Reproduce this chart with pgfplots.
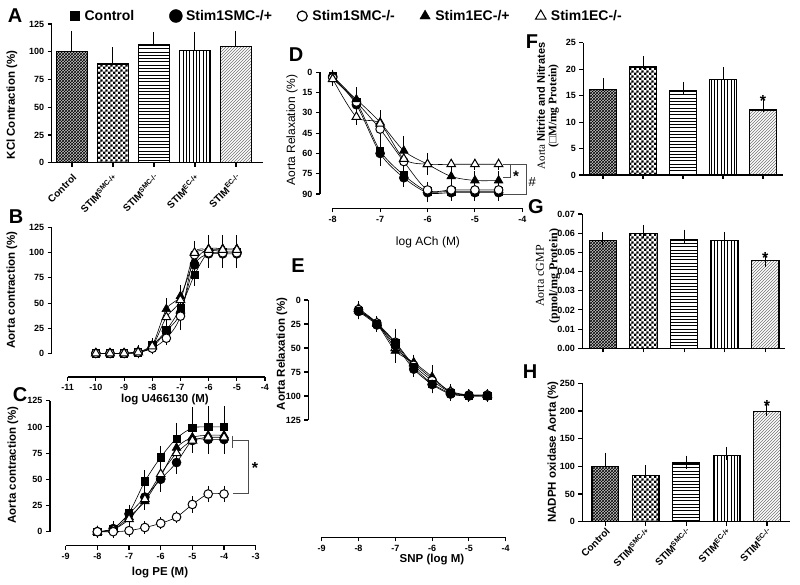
\documentclass[border=0pt]{standalone}
\usepackage{pgfplots}
\pgfplotsset{compat=1.18}
\usepackage{fontspec}
\setmainfont{Liberation Sans}
\newfontfamily\tnr{Liberation Serif}
\usetikzlibrary{patterns}

\pgfdeclarepatternformonly{mych}{\pgfqpoint{0pt}{0pt}}{\pgfqpoint{5.2pt}{5.2pt}}{\pgfqpoint{5.2pt}{5.2pt}}{%
 \pgfpathrectangle{\pgfqpoint{0pt}{0pt}}{\pgfqpoint{2.6pt}{2.6pt}}%
 \pgfpathrectangle{\pgfqpoint{2.6pt}{2.6pt}}{\pgfqpoint{2.6pt}{2.6pt}}%
 \pgfusepath{fill}}
\pgfdeclarepatternformonly{myh}{\pgfqpoint{-1pt}{-1pt}}{\pgfqpoint{4pt}{4pt}}{\pgfqpoint{3pt}{3.3pt}}{%
 \pgfsetlinewidth{0.9pt}\pgfpathmoveto{\pgfqpoint{-1pt}{1.65pt}}\pgfpathlineto{\pgfqpoint{4pt}{1.65pt}}\pgfusepath{stroke}}
\pgfdeclarepatternformonly{myv}{\pgfqpoint{-1pt}{-1pt}}{\pgfqpoint{4pt}{4pt}}{\pgfqpoint{3.3pt}{3pt}}{%
 \pgfsetlinewidth{0.9pt}\pgfpathmoveto{\pgfqpoint{1.65pt}{-1pt}}\pgfpathlineto{\pgfqpoint{1.65pt}{4pt}}\pgfusepath{stroke}}

\pgfplotsset{
  base/.style={scale only axis, clip=false, anchor=center,
    axis line style={line width=1.3pt},
    every tick/.append style={black, line width=1.1pt},
    major tick length=4pt,
    tick label style={font=\bfseries\fontsize{9}{10}\selectfont},
    /pgf/number format/assume math mode=true},
  yonly/.style={base, axis x line=none, axis y line*=left, tick align=outside},
  xonly/.style={base, anchor=south west, axis y line=none, axis x line*=bottom, height=1pt, ymin=0, ymax=1, ytick=\empty, tick align=outside},
  barax/.style={base, axis x line*=bottom, axis y line*=left, xtick={0,...,4}, ymin=0, tick align=outside},
  ser/.style={black, line width=0.6pt, smooth, tension=0.5,
    error bars/y dir=both, error bars/y explicit, error bars/error mark=-,
    error bars/error bar style={line width=0.9pt, solid},
    error bars/error mark options={line width=0.9pt, mark size=4pt, solid}},
  sSq/.style={ser, mark=square*, mark size=3.6pt, mark options={solid, fill=black}},
  sCi/.style={ser, mark=*, mark size=4.5pt, mark options={solid, fill=black}},
  sOc/.style={ser, mark=*, mark size=4.3pt, mark options={solid, fill=white, draw=black, line width=1pt}},
  sTr/.style={ser, mark=triangle*, mark size=5pt, mark options={solid, fill=black}},
  sOt/.style={ser, mark=triangle*, mark size=5pt, mark options={solid, fill=white, draw=black, line width=1pt}},
  barb/.style={ybar, bar shift=0pt, draw=black, line width=1.2pt,
    error bars/y dir=plus, error bars/y explicit, error bars/error mark=-,
    error bars/error bar style={line width=1pt},
    error bars/error mark options={line width=1pt, mark size=6.5pt}},
  bar1/.style={barb, preaction={fill=gray!45}, pattern=crosshatch},
  bar2/.style={barb, preaction={fill=white}, pattern=mych},
  bar3/.style={barb, preaction={fill=white}, pattern=myh},
  bar4/.style={barb, preaction={fill=white}, pattern=myv},
  bar5/.style={barb, preaction={fill=white}, pattern=north east lines, pattern color=black!55},
  catlabels/.style={xticklabels={Control, STIM\textsuperscript{SMC-/+}, STIM\textsuperscript{SMC-/-}, STIM\textsuperscript{EC-/+}, STIM\textsuperscript{EC-/-}}},
}

\begin{document}
\begin{tikzpicture}[x=1pt,y=-1pt]
\useasboundingbox (0,0) rectangle (800,585);

% ---------- legend ----------
\begin{axis}[at={(400pt,-292.5pt)}, anchor=center, scale only axis, width=800pt, height=585pt,
  xmin=0,xmax=800,ymin=0,ymax=585, hide axis, legend columns=5,
  legend style={at={(0.085,0.9726)}, anchor=west, draw=none, fill=none, inner sep=0pt,
   font=\bfseries\fontsize{14}{16}\selectfont},
  legend image code/.code={\path (-6pt,0pt) (8pt,0pt);\draw[#1] plot coordinates {(0pt,0pt)};}]
\addlegendimage{black, mark=square*, mark size=4.6pt}
\addlegendentry{Control\hspace*{33pt}}
\addlegendimage{black, mark=*, mark size=6.5pt}
\addlegendentry{Stim1SMC-/+\hspace*{22pt}}
\addlegendimage{black, mark=*, mark size=5pt, mark options={fill=white, line width=1.2pt}}
\addlegendentry{Stim1SMC-/-\hspace*{22pt}}
\addlegendimage{black, mark=triangle*, mark size=6pt}
\addlegendentry{Stim1EC-/+\hspace*{23pt}}
\addlegendimage{black, mark=triangle*, mark size=6pt, mark options={fill=white, line width=1pt}}
\addlegendentry{Stim1EC-/-}
\end{axis}

% ---------- A ----------
\begin{axis}[barax, at={(157.35pt,-93.35pt)}, width=211.3pt, height=138.7pt,
  xmin=-0.495, xmax=4.66, ymax=125, ytick={0,25,...,125}, catlabels,
  xticklabel style={yshift=-5pt, rotate=45, anchor=north east, inner sep=1pt, font=\bfseries\fontsize{10}{11}\selectfont}]
\addplot[bar1, bar width=0.75] coordinates {(0,100) +- (0,13)};
\addplot[bar2, bar width=0.75] coordinates {(1,89) +- (0,9)};
\addplot[bar3, bar width=0.75] coordinates {(2,106) +- (0,6)};
\addplot[bar4, bar width=0.75] coordinates {(3,101) +- (0,11)};
\addplot[bar5, bar width=0.75] coordinates {(4,105) +- (0,8)};
\end{axis}

% ---------- B ----------
\begin{axis}[yonly, at={(158.35pt,-290.5pt)}, width=213.3pt, height=125.6pt,
  xmin=-11.567, xmax=-4, ymin=0, ymax=125, ytick={0,25,...,125}]
\addplot[sSq] table[x=x,y=y,y error=e] {
x y e
-10 0 1
-9.5 0 1
-9 0 1
-8.5 1 2
-8 8 3
-7.5 23 5
-7 45 8
-6.5 78 7
-6 101 11
-5.5 101 11
-5 101 11
};
\addplot[sCi] table[x=x,y=y,y error=e] {
x y e
-10 0 1
-9.5 0 1
-9 0 1
-8.5 1 2
-8 6 3
-7.5 22 5
-7 40 8
-6.5 88 6
-6 99 10
-5.5 99 10
-5 99 10
};
\addplot[sTr] table[x=x,y=y,y error=e] {
x y e
-10 0 1
-9.5 0 1
-9 0 1
-8.5 2 2
-8 8 3
-7.5 44 7
-7 57 7
-6.5 92 6
-6 104 10
-5.5 104 10
-5 104 10
};
\addplot[sOc] table[x=x,y=y,y error=e] {
x y e
-10 0 1
-9.5 0 1
-9 0 1
-8.5 1 2
-8 5 2
-7.5 15 3
-7 37 10
-6.5 98 5
-6 100 9
-5.5 100 9
-5 100 9
};
\addplot[sOt] table[x=x,y=y,y error=e] {
x y e
-10 0 1
-9.5 0 1
-9 0 1
-8.5 1 2
-8 7 3
-7.5 36 6
-7 53 8
-6.5 100 8
-6 103 10
-5.5 103 10
-5 103 10
};
\end{axis}
\begin{axis}[xonly, at={(67.7pt,-377pt)}, width=197.3pt, xmin=-11, xmax=-4, xtick={-11,...,-4}]
\end{axis}

% ---------- C ----------
\begin{axis}[yonly, at={(152.85pt,-466.2pt)}, width=205.7pt, height=131pt,
  xmin=-9.496, xmax=-3, ymin=0, ymax=125, ytick={0,25,...,125}]
\addplot[sSq] table[x=x,y=y,y error=e] {
x y e
-8 0 2
-7.5 3 3
-7 18 4
-6.5 48 7
-6 71 7
-5.5 89 11
-5 99 16
-4.5 100 16
-4 100 16
};
\addplot[sCi] table[x=x,y=y,y error=e] {
x y e
-8 0 2
-7.5 3 3
-7 17 4
-6.5 33 5
-6 50 8
-5.5 66 7
-5 87 8
-4.5 88 10
-4 88 10
};
\addplot[sTr] table[x=x,y=y,y error=e] {
x y e
-8 0 2
-7.5 2 2
-7 14 3
-6.5 29 4
-6 53 6
-5.5 80 8
-5 90 6
-4.5 92 8
-4 92 8
};
\addplot[sOt] table[x=x,y=y,y error=e] {
x y e
-8 0 2
-7.5 2 2
-7 12 3
-6.5 31 4
-6 55 6
-5.5 75 7
-5 87 6
-4.5 90 8
-4 90 8
};
\addplot[sOc] table[x=x,y=y,y error=e] {
x y e
-8 0 2
-7.5 0 2
-7 1 2
-6.5 4 2
-6 8 2
-5.5 14 2
-5 26 4
-4.5 36 4
-4 36 4
};
\draw[black!70, line width=0.7pt] (axis cs:-3.727,91.5) -- (axis cs:-3.727,80);
\draw[black!70, line width=0.7pt] (axis cs:-3.727,87) -- (axis cs:-3.234,87) -- (axis cs:-3.234,36.6) -- (axis cs:-3.727,36.6);
\node[font=\bfseries\fontsize{16}{16}\selectfont] at (axis cs:-3.02,60.8) {*};
\end{axis}
\begin{axis}[xonly, at={(65.7pt,-545.7pt)}, width=190pt, xmin=-9, xmax=-3, xtick={-9,...,-3}]
\end{axis}

% ---------- D ----------
\begin{axis}[yonly, at={(421.15pt,-133.15pt)}, width=202.3pt, height=121.7pt,
  xmin=-8.268, xmax=-4, ymin=0, ymax=90, y dir=reverse, ytick={0,15,...,90}]
\addplot[sSq] table[x=x,y=y,y error=e] {
x y e
-8 3 2
-7.5 22 6
-7 58 6
-6.5 76 4
-6 88 4
-5.5 88 3
-5 88 3
-4.5 88 3
};
\addplot[sCi] table[x=x,y=y,y error=e] {
x y e
-8 3 2
-7.5 24 5
-7 60 6
-6.5 78 4
-6 89 4
-5.5 89 3
-5 89 3
-4.5 89 3
};
\addplot[sOc] table[x=x,y=y,y error=e] {
x y e
-8 4 2
-7.5 22 5
-7 42 5
-6.5 66 5
-6 87 3
-5.5 87 3
-5 87 3
-4.5 87 3
};
\addplot[sTr] table[x=x,y=y,y error=e] {
x y e
-8 5 2
-7.5 20 6
-7 37 6
-6.5 58 8
-6 68 5
-5.5 77 2
-5 80 4
-4.5 80 4
};
\addplot[sOt] table[x=x,y=y,y error=e] {
x y e
-8 5 2
-7.5 33 3
-7 38 5
-6.5 64 4
-6 68 3
-5.5 68 1
-5 68 1
-4.5 68 1
};
\draw[black!70, line width=0.7pt] (axis cs:-4.408,67.8) -- (axis cs:-3.907,67.8) -- (axis cs:-3.907,90) -- (axis cs:-4.408,90);
\draw[black!70, line width=0.7pt] (axis cs:-4.245,67.8) -- (axis cs:-4.245,77.9) -- (axis cs:-4.408,77.9);
\node[font=\bfseries\fontsize{15}{15}\selectfont] at (axis cs:-4.133,76.7) {*};
\node[font=\fontsize{13}{13}\selectfont] at (axis cs:-3.79,81.1) {\#};
\end{axis}
\begin{axis}[xonly, at={(332.7pt,-208.3pt)}, width=189.6pt, xmin=-8, xmax=-4, xtick={-8,...,-4}]
\end{axis}

% ---------- E ----------
\begin{axis}[yonly, at={(407pt,-360pt)}, width=197.4pt, height=120pt,
  xmin=-9.364, xmax=-4, ymin=0, ymax=125, y dir=reverse, ytick={0,25,...,125}]
\addplot[sOt] table[x=x,y=y,y error=e] {
x y e
-8 9 4
-7.5 24 3
-7 50 8
-6.5 66 4
-6 82 8
-5.5 95 3
-5 99 2
-4.5 99 2
};
\addplot[sTr] table[x=x,y=y,y error=e] {
x y e
-8 11 4
-7.5 25 3
-7 53 8
-6.5 65 4
-6 80 8
-5.5 96 3
-5 99 2
-4.5 99 2
};
\addplot[sOc] table[x=x,y=y,y error=e] {
x y e
-8 10 4
-7.5 24 3
-7 44 10
-6.5 68 4
-6 84 6
-5.5 96 3
-5 99 2
-4.5 99 2
};
\addplot[sCi] table[x=x,y=y,y error=e] {
x y e
-8 12 4
-7.5 26 3
-7 47 8
-6.5 72 4
-6 88 5
-5.5 98 3
-5 100 2
-4.5 100 2
};
\addplot[sSq] table[x=x,y=y,y error=e] {
x y e
-8 11 5
-7.5 25 3
-7 45 8
-6.5 70 4
-6 87 6
-5.5 97 3
-5 100 2
-4.5 100 2
};
\end{axis}
\begin{axis}[xonly, at={(321.7pt,-537.3pt)}, width=184pt, xmin=-9, xmax=-4, xtick={-9,...,-4}]
\end{axis}

% ---------- F ----------
\begin{axis}[barax, at={(683.15pt,-108.85pt)}, width=199.7pt, height=132.3pt,
  xmin=-0.4925, xmax=4.5, ymax=25, ytick={0,5,...,25}, xticklabels={}]
\addplot[bar1, bar width=0.69] coordinates {(0,16.2) +- (0,0.9)};
\addplot[bar2, bar width=0.69] coordinates {(1,20.4) +- (0,0.8)};
\addplot[bar3, bar width=0.69] coordinates {(2,15.9) +- (0,0.4)};
\addplot[bar4, bar width=0.69] coordinates {(3,18.1) +- (0,1.0)};
\addplot[bar5, bar width=0.69] coordinates {(4,12.3) +- (0,0.9)};
\node[font=\bfseries\fontsize{16}{16}\selectfont] at (axis cs:4,13.9) {*};
\end{axis}

% ---------- G ----------
\begin{axis}[barax, at={(683.65pt,-281.15pt)}, width=202.7pt, height=134.3pt,
  xmin=-0.51, xmax=4.49, ymax=0.07, ytick={0,0.01,0.02,0.03,0.04,0.05,0.06,0.07}, xticklabels={},
  scaled y ticks=false,
  yticklabel style={/pgf/number format/fixed, /pgf/number format/fixed zerofill, /pgf/number format/precision=2}]
\addplot[bar1, bar width=0.68] coordinates {(0,0.0562) +- (0,0.0008)};
\addplot[bar2, bar width=0.68] coordinates {(1,0.0597) +- (0,0.0013)};
\addplot[bar3, bar width=0.68] coordinates {(2,0.0568) +- (0,0.0017)};
\addplot[bar4, bar width=0.68] coordinates {(3,0.0562) +- (0,0.0011)};
\addplot[bar5, bar width=0.68] coordinates {(4,0.0456) +- (0,0.0004)};
\node[font=\bfseries\fontsize{16}{16}\selectfont] at (axis cs:4,0.0471) {*};
\end{axis}

% ---------- H ----------
\begin{axis}[barax, at={(686.15pt,-452.5pt)}, width=207.7pt, height=138.4pt,
  xmin=-0.57, xmax=4.57, ymax=250, ytick={0,50,...,250}, catlabels,
  xticklabel style={rotate=45, anchor=north east, inner sep=1pt, font=\bfseries\fontsize{10}{11}\selectfont}]
\addplot[bar1, bar width=0.66] coordinates {(0,100) +- (0,13)};
\addplot[bar2, bar width=0.66] coordinates {(1,84) +- (0,6)};
\addplot[bar3, bar width=0.66] coordinates {(2,106) +- (0,1.5)};
\addplot[bar4, bar width=0.66] coordinates {(3,120) +- (0,3)};
\addplot[bar5, bar width=0.66] coordinates {(4,199) +- (0,3)};
\node[font=\bfseries\fontsize{16}{16}\selectfont] at (axis cs:4,208.5) {*};
\end{axis}

% ---------- labels ----------
\begin{scope}[font=\bfseries\fontsize{20}{22}\selectfont]
\node at (15,16) {A};
\node at (16,217) {B};
\node at (20,395) {C};
\node at (296,55) {D};
\node at (298,266) {E};
\node at (532,42) {F};
\node at (536,207) {G};
\node at (530,372) {H};
\end{scope}
\begin{scope}[font=\bfseries\fontsize{11.5}{13}\selectfont]
\node[rotate=90] at (12,105) {KCl Contraction (\%)};
\node[rotate=90] at (12,290) {Aorta contraction (\%)};
\node at (165,400) {log U466130 (M)};
\node[rotate=90] at (13,465) {Aorta contraction (\%)};
\node at (160,573) {log PE (M)};
\node[rotate=90] at (282,354) {Aorta Relaxation (\%)};
\node at (432,560) {SNP (log M)};
\node[rotate=90] at (553,452) {NADPH oxidase Aorta (\%)};
\end{scope}
\begin{scope}[font=\fontsize{12}{14}\selectfont]
\node[rotate=90] at (292,130) {Aorta Relaxation (\%)};
\node at (428,242) {log ACh (M)};
\end{scope}
\node[rotate=90, align=center, font=\bfseries\fontsize{11}{11.5}\selectfont] at (548,106) {{\tnr\mdseries Aorta} Nitrite and Nitrates\\{\tnr\fontsize{11.5}{11.5}\selectfont (□M/mg Protein)}};
\node[rotate=90, align=center, font=\tnr\fontsize{12}{13.5}\selectfont] at (548,276) {Aorta cGMP\\{\bfseries (pmol/mg Protein)}};
\end{tikzpicture}
\end{document}
